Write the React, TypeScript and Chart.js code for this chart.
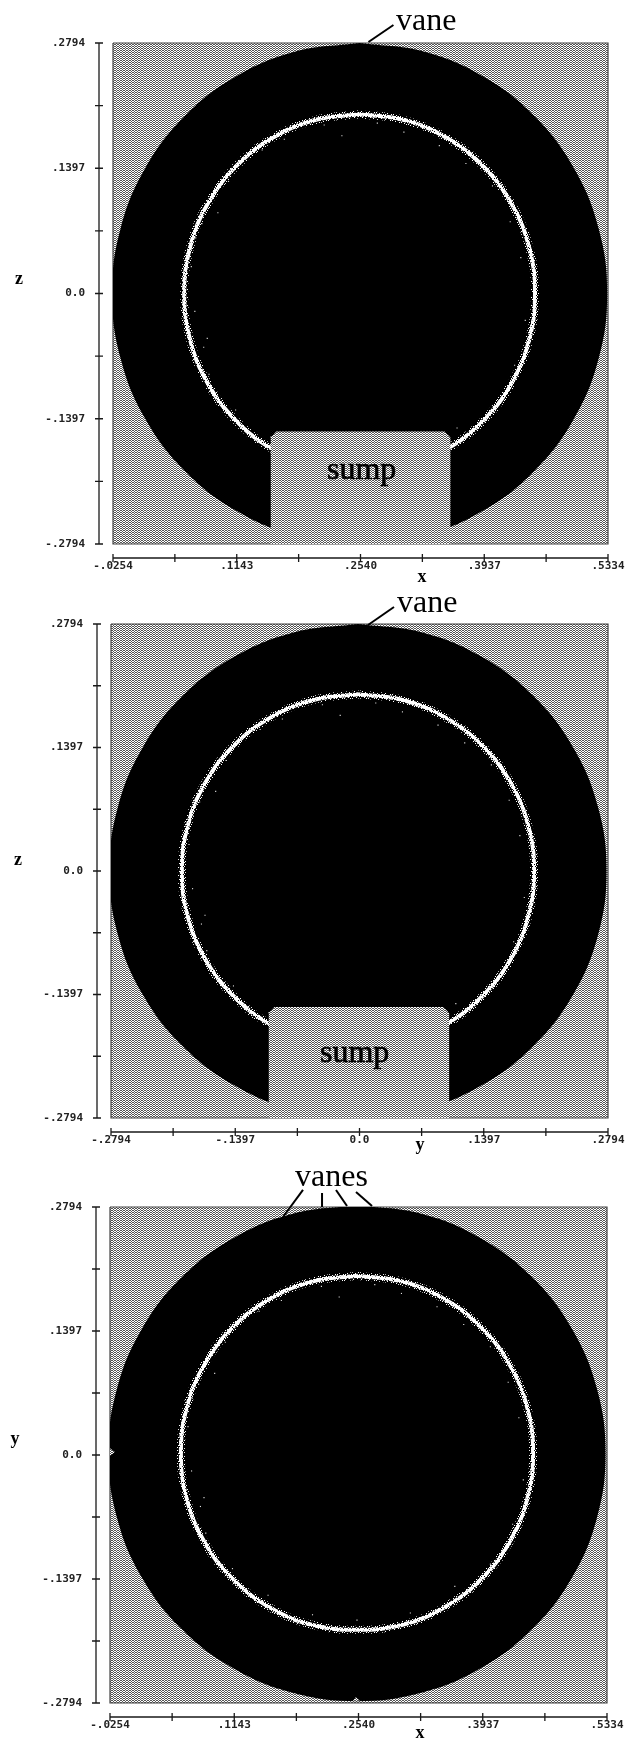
import React, { useEffect, useRef } from "react";
import { Chart, registerables } from "chart.js";

Chart.register(...registerables);

type P = { x: number; y: number };

// ---- data (metres) ----
const xTicksA = [-0.0254, 0.04445, 0.1143, 0.18415, 0.254, 0.32385, 0.3937, 0.46355, 0.5334];
const xLabelsA = ["-.0254", "", ".1143", "", ".2540", "", ".3937", "", ".5334"];
const xTicksB = [-0.2794, -0.20955, -0.1397, -0.06985, 0, 0.06985, 0.1397, 0.20955, 0.2794];
const xLabelsB = ["-.2794", "", "-.1397", "", "0.0", "", ".1397", "", ".2794"];
const yTicks = [-0.2794, -0.20955, -0.1397, -0.06985, 0, 0.06985, 0.1397, 0.20955, 0.2794];
const yLabels = ["-.2794", "", "-.1397", "", "0.0", "", ".1397", "", ".2794"];

// outer edge of the vane disc, relative to its centre
const discX = [0, .0723, .1397, .1976, .2420, .2699, .2794, .2699, .2420, .1976, .1397, .0723, 0, -.0723, -.1397, -.1976, -.2420, -.2699, -.2794, -.2699, -.2420, -.1976, -.1397, -.0723, 0];
const discY = [.2794, .2699, .2420, .1976, .1397, .0723, 0, -.0723, -.1397, -.1976, -.2420, -.2699, -.2794, -.2699, -.2420, -.1976, -.1397, -.0723, 0, .0723, .1397, .1976, .2420, .2699, .2794];
// light ring of the inner wall, relative to the same centre
const ringX = [0, .0513, .099, .14, .1715, .1913, .198, .1913, .1715, .14, .099, .0513, 0, -.0513, -.099, -.14, -.1715, -.1913, -.198, -.1913, -.1715, -.14, -.099, -.0513, 0];
const ringY = [.2, .1932, .1732, .1414, .1, .0518, 0, -.0518, -.1, -.1414, -.1732, -.1932, -.199, -.1932, -.1732, -.1414, -.1, -.0518, 0, .0518, .1, .1414, .1732, .1932, .2];
// stray light specks inside the ring
const speckX = [-.19, -.185, -.178, -.172, -.16, -.148, -.13, -.11, -.085, -.04, -.02, .02, .05, .09, .12, .15, .17, .182, .187, .175, .15, .11, .06, .0, -.05, -.1, -.14, -.17, -.186, -.176];
const speckY = [.03, .062, .078, -.05, .09, .125, .15, .16, .172, .188, .176, .19, .18, .165, .145, .12, .08, .04, -.03, -.08, -.125, -.15, -.18, -.188, -.182, -.16, -.13, -.09, -.02, -.06];
// sump outline, relative to the centre (chamfered upper corners)
const sumpX = [-.1003, -.1003, -.094, .096, .1025, .1025];
const sumpY = [-.2794, -.1605, -.1538, -.1538, -.1605, -.2794];
// leader lines
const vaneLeaderA: P[] = [{ x: .2912, y: .2995 }, { x: .2630, y: .2805 }];
const vaneLeaderB: P[] = [{ x: .0388, y: .2986 }, { x: .0096, y: .2783 }];
const vanesLeaderC: P[][] = [
  [{ x: .1916, y: .2986 }, { x: .1691, y: .2681 }],
  [{ x: .2130, y: .2952 }, { x: .2130, y: .2794 }],
  [{ x: .2287, y: .2986 }, { x: .2411, y: .2805 }],
  [{ x: .2512, y: .2963 }, { x: .2692, y: .2805 }],
];
// little light notches at the vanes of the third view
const notchLeft: P[] = [{ x: -.0254, y: .0075 }, { x: -.0200, y: .0034 }, { x: -.0254, y: -.0010 }, { x: -.0254, y: .0075 }];
const notchBottom: P[] = [{ x: .2475, y: -.2772 }, { x: .2512, y: -.2725 }, { x: .2555, y: -.2772 }, { x: .2475, y: -.2772 }];

// ---- halftone tiles ----
const halftoneRows = ["##.", "..#"];
const speckleRows = ["#.##.###", "###.####", ".#####.#", "##.#####", "####.##.", "#.######", "###.#.##", ".#######"];
const sparseRows = ["#.....#.", "...#....", ".#.....#", "....#...", "#.....#.", "..#.....", ".....#..", ".#......"];

function makeTile(rows: string[], on: string, off: string) {
  const c = document.createElement("canvas");
  c.width = rows[0].length;
  c.height = rows.length;
  const g = c.getContext("2d")!;
  rows.forEach((r, y) => r.split("").forEach((ch, x) => {
    const col = ch === "#" ? on : off;
    if (col !== "none") { g.fillStyle = col; g.fillRect(x, y, 1, 1); }
  }));
  return g.createPattern(c, "repeat")!;
}

const shifted = (xs: number[], ys: number[], cx: number, cy: number): P[] =>
  xs.map((v, i) => ({ x: v + cx, y: ys[i] + cy }));

const axisFrame = {
  id: "axisFrame",
  afterDraw(chart: any) {
    const { ctx, chartArea: a, scales } = chart;
    const ax = a.left - 14, ay = a.bottom + 14;
    ctx.save();
    ctx.strokeStyle = "#1a1a1a";
    ctx.lineWidth = 1.3;
    ctx.beginPath();
    ctx.moveTo(ax, a.top); ctx.lineTo(ax, a.bottom);
    ctx.moveTo(a.left, ay); ctx.lineTo(a.right, ay);
    scales.y.ticks.forEach((t: any) => {
      const p = scales.y.getPixelForValue(t.value);
      ctx.moveTo(ax - 4, p); ctx.lineTo(ax + 4, p);
    });
    scales.x.ticks.forEach((t: any) => {
      const p = scales.x.getPixelForValue(t.value);
      ctx.moveTo(p, ay - 4); ctx.lineTo(p, ay + 4);
    });
    ctx.stroke();
    ctx.restore();
  },
};

const notesPlugin = {
  id: "notes",
  afterDraw(chart: any, _a: any, opts: any) {
    const { ctx } = chart;
    ctx.save();
    ctx.fillStyle = "#000";
    ctx.strokeStyle = "#000";
    ctx.textBaseline = "alphabetic";
    (opts.items || []).forEach((n: any) => {
      ctx.font = n.font;
      ctx.textAlign = n.align || "left";
      ctx.fillText(n.text, n.x, n.y);
      if (n.heavy) { ctx.lineWidth = 0.7; ctx.strokeText(n.text, n.x, n.y); }
    });
    ctx.restore();
  },
};

const bigFont = "32px 'Liberation Serif'";
const axisFont = "bold 18px 'Liberation Serif'";

type Spec = {
  top: number; height: number; left: number; right: number; plotTop: number; plotBottom: number;
  xMin: number; xMax: number; xTicks: number[]; xLabels: string[];
  cx: number; cy: number; sump: boolean; leaders: P[][]; notches: P[][]; notes: any[];
};

const specs: Spec[] = [
  {
    top: 0, height: 590, left: 113, right: 608, plotTop: 43, plotBottom: 544,
    xMin: -.0254, xMax: .5334, xTicks: xTicksA, xLabels: xLabelsA, cx: .2530, cy: 0, sump: true,
    leaders: [vaneLeaderA], notches: [],
    notes: [
      { text: "vane", x: 396, y: 30, font: bigFont },
      { text: "sump", x: 327, y: 479, font: bigFont, heavy: true },
      { text: "z", x: 19, y: 284, font: axisFont, align: "center" },
      { text: "x", x: 422, y: 582, font: axisFont, align: "center" },
    ],
  },
  {
    top: 590, height: 570, left: 111, right: 608, plotTop: 34, plotBottom: 528,
    xMin: -.2794, xMax: .2794, xTicks: xTicksB, xLabels: xLabelsB, cx: -.0017, cy: 0, sump: true,
    leaders: [vaneLeaderB], notches: [],
    notes: [
      { text: "vane", x: 397, y: 22, font: bigFont },
      { text: "sump", x: 320, y: 472, font: bigFont, heavy: true },
      { text: "z", x: 18, y: 275, font: axisFont, align: "center" },
      { text: "y", x: 420, y: 560, font: axisFont, align: "center" },
    ],
  },
  {
    top: 1160, height: 579, left: 110, right: 607, plotTop: 47, plotBottom: 543,
    xMin: -.0254, xMax: .5334, xTicks: xTicksA, xLabels: xLabelsA, cx: .2523, cy: .002, sump: false,
    leaders: vanesLeaderC, notches: [notchLeft, notchBottom],
    notes: [
      { text: "vanes", x: 295, y: 26, font: bigFont },
      { text: "y", x: 15, y: 284, font: axisFont, align: "center" },
      { text: "x", x: 420, y: 578, font: axisFont, align: "center" },
    ],
  },
];

function Panel({ spec }: { spec: Spec }) {
  const ref = useRef<HTMLCanvasElement>(null);
  useEffect(() => {
    const halftone = makeTile(halftoneRows, "#555555", "#ffffff");
    const speckle = makeTile(speckleRows, "#ffffff", "none");
    const sparse = makeTile(sparseRows, "#ffffff", "none");
    const poly = (data: P[], order: number, fillStyle: any, extra: any = {}) => ({
      data, order, showLine: true, pointRadius: 0, borderWidth: 0,
      fill: "shape", backgroundColor: fillStyle, borderColor: fillStyle, tension: 0, ...extra,
    });
    const rectX = [spec.xMin, spec.xMax, spec.xMax, spec.xMin, spec.xMin];
    const rectY = [.2794, .2794, -.2794, -.2794, .2794];
    const ringPts = shifted(ringX, ringY, spec.cx, spec.cy);
    const datasets: any[] = [
      poly(rectX.map((x, i) => ({ x, y: rectY[i] })), 90, halftone, { borderWidth: 1.2, borderColor: "#444", clip: false }),
      poly(shifted(discX, discY, spec.cx, spec.cy), 80, "#000", { tension: 0.4, capBezierPoints: false }),
      {
        data: ringPts, order: 72, showLine: true, pointRadius: 0,
        borderColor: sparse, borderWidth: 8, tension: 0.4, fill: false, capBezierPoints: false,
      },
      {
        data: ringPts, order: 70, showLine: true, pointRadius: 0,
        borderColor: speckle, borderWidth: 4, tension: 0.4, fill: false, capBezierPoints: false,
      },
      {
        data: ringPts, order: 65, showLine: true, pointRadius: 0,
        borderColor: "#fff", borderWidth: 2, borderDash: [23, 2, 11, 3], tension: 0.4, fill: false, capBezierPoints: false,
      },
      {
        data: shifted(speckX, speckY, spec.cx, spec.cy), order: 60, showLine: false,
        pointRadius: 0.8, pointStyle: "rect", pointBorderWidth: 0, pointBackgroundColor: "#ddd",
      },
    ];
    if (spec.sump) {
      datasets.push(poly(shifted(sumpX, sumpY, spec.cx, spec.cy), 50, halftone));
    }
    spec.notches.forEach((n) => datasets.push(poly(n, 40, halftone)));
    spec.leaders.forEach((l) =>
      datasets.push({
        data: l, order: 30, showLine: true, pointRadius: 0, borderColor: "#000",
        borderWidth: 2, clip: false, fill: false,
      })
    );

    const tickFont = { family: "'DejaVu Sans Mono'", size: 11, weight: "bold" as const };
    const chart = new Chart(ref.current!, {
      type: "scatter",
      data: { datasets },
      plugins: [axisFrame, notesPlugin],
      options: {
        animation: false,
        responsive: false,
        layout: { autoPadding: false, padding: { top: spec.plotTop, right: 625 - spec.right, left: 0, bottom: 0 } },
        plugins: {
          legend: { display: false },
          tooltip: { enabled: false },
          notes: { items: spec.notes },
        } as any,
        scales: {
          x: {
            type: "linear",
            min: spec.xMin,
            max: spec.xMax,
            grid: { display: false, drawTicks: false },
            border: { display: false },
            afterBuildTicks: (s: any) => { s.ticks = spec.xTicks.map((value) => ({ value })); },
            afterFit: (s: any) => { s.height = spec.height - spec.plotBottom; s.paddingLeft = 0; s.paddingRight = 0; },
            ticks: {
              autoSkip: false, maxRotation: 0, minRotation: 0, padding: 16, color: "#222", font: tickFont,
              callback: (_v: any, i: number) => spec.xLabels[i],
            },
          },
          y: {
            type: "linear",
            min: -.2794,
            max: .2794,
            grid: { display: false, drawTicks: false },
            border: { display: false },
            afterBuildTicks: (s: any) => { s.ticks = yTicks.map((value) => ({ value })); },
            afterFit: (s: any) => { s.width = spec.left; s.paddingTop = 0; s.paddingBottom = 0; },
            ticks: {
              autoSkip: false, padding: 28, color: "#222", font: tickFont,
              callback: (_v: any, i: number) => yLabels[i],
            },
          },
        },
      },
    } as any);
    return () => chart.destroy();
  }, [spec]);
  return (
    <canvas
      ref={ref}
      width={625}
      height={spec.height}
      style={{ position: "absolute", left: 0, top: spec.top, width: 625, height: spec.height, display: "block" }}
    />
  );
}

export default function App() {
  return (
    <div style={{ position: "absolute", left: 0, top: 0, width: 625, height: 1739, background: "#fff", overflow: "hidden" }}>
      {specs.map((s, i) => <Panel key={i} spec={s} />)}
    </div>
  );
}
